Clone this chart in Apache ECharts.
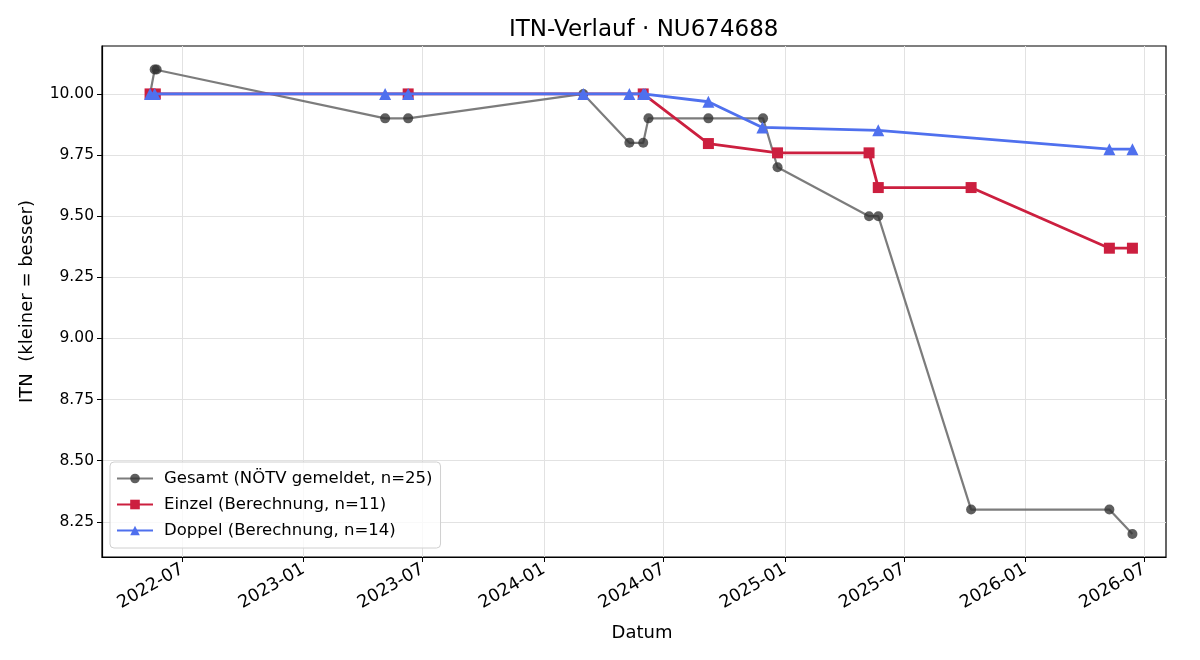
<!DOCTYPE html>
<html>
<head>
<meta charset="utf-8">
<title>ITN-Verlauf</title>
<script src="https://cdn.jsdelivr.net/npm/echarts@6/dist/echarts.min.js"></script>
<style>
  html, body { margin: 0; padding: 0; background: #fff; }
  #chart { width: 1200px; height: 660px; }
</style>
</head>
<body>
<div id="chart"></div>
<script>
// Gesamt (NÖTV gemeldet)
const gesamtDates = ['2022-05-13', '2022-05-20', '2022-05-23', '2023-05-05', '2023-06-09',
  '2024-03-01', '2024-05-10', '2024-05-31', '2024-06-08', '2024-09-07', '2024-11-29',
  '2024-12-21', '2025-05-09', '2025-05-23', '2025-10-11', '2026-05-09', '2026-06-13'];
const gesamtValues = [10.0, 10.1, 10.1, 9.9, 9.9, 10.0, 9.8, 9.8, 9.9, 9.9, 9.9,
  9.7, 9.5, 9.5, 8.3, 8.3, 8.2];

// Einzel (Berechnung)
const einzelDates = ['2022-05-13', '2022-05-21', '2023-06-09', '2024-05-31', '2024-09-07',
  '2024-12-21', '2025-05-09', '2025-05-23', '2025-10-11', '2026-05-09', '2026-06-13'];
const einzelValues = [10.0, 10.0, 10.0, 10.0, 9.797, 9.759, 9.759, 9.617, 9.617, 9.369, 9.369];

// Doppel (Berechnung)
const doppelDates = ['2022-05-13', '2022-05-20', '2023-05-05', '2023-06-09', '2024-03-01',
  '2024-05-10', '2024-05-31', '2024-06-03', '2024-09-07', '2024-11-28', '2025-05-23',
  '2026-05-09', '2026-06-13'];
const doppelValues = [10.0, 10.0, 10.0, 10.0, 10.0, 10.0, 10.0, 10.0, 9.968, 9.863, 9.851,
  9.774, 9.774];

const xTickLabels = ['2022-07', '2023-01', '2023-07', '2024-01', '2024-07',
  '2025-01', '2025-07', '2026-01', '2026-07'];
const yTickValues = [8.25, 8.5, 8.75, 9.0, 9.25, 9.5, 9.75, 10.0];

const xMin = '2022-03-01';
const xMax = '2026-08-03';
const yMin = 8.106;
const yMax = 10.196;

function ts(d) { return new Date(d + 'T00:00:00Z').getTime(); }
function pairs(dates, values) { return dates.map((d, i) => [ts(d), values[i]]); }

const xTickValues = xTickLabels.map(m => ts(m + '-01'));
const font = 'DejaVu Sans';

const chart = echarts.init(document.getElementById('chart'), null, { renderer: 'canvas' });

chart.setOption({
  animation: false,
  backgroundColor: '#fff',
  textStyle: { fontFamily: font },
  title: {
    text: 'ITN-Verlauf · NU674688',
    left: 504,
    top: 14,
    textStyle: { fontFamily: font, fontSize: 23, fontWeight: 'normal', color: '#000' }
  },
  grid: {
    left: 102, right: 34, top: 46, bottom: 103,
    show: true, borderColor: '#000', borderWidth: 1.2
  },
  legend: {
    orient: 'vertical',
    left: 110,
    top: 462,
    itemWidth: 36,
    itemHeight: 12,
    itemGap: 9,
    padding: [8, 8, 9, 6],
    borderColor: '#d0d0d0',
    borderWidth: 1,
    borderRadius: 4,
    backgroundColor: 'rgba(255,255,255,0.8)',
    textStyle: { fontFamily: font, fontSize: 16.5, color: '#000', padding: [0, 0, 0, 6] },
    data: ['Gesamt (NÖTV gemeldet, n=25)', 'Einzel (Berechnung, n=11)', 'Doppel (Berechnung, n=14)']
  },
  xAxis: {
    type: 'value',
    min: ts(xMin),
    max: ts(xMax),
    name: 'Datum',
    nameLocation: 'middle',
    nameGap: 67,
    nameTextStyle: { fontFamily: font, fontSize: 18, color: '#000', padding: [0, 0, 0, 16] },
    axisLine: { onZero: false, lineStyle: { color: '#000', width: 1.2 } },
    axisTick: { show: true, customValues: xTickValues, length: 5, lineStyle: { color: '#000' } },
    axisLabel: {
      customValues: xTickValues,
      rotate: 30,
      margin: 11,
      fontFamily: font,
      fontSize: 17.5,
      color: '#000',
      formatter: v => {
        const d = new Date(v);
        return d.getUTCFullYear() + '-' + String(d.getUTCMonth() + 1).padStart(2, '0');
      }
    },
    splitLine: { show: true, lineStyle: { color: '#e2e2e2', width: 1 } }
  },
  yAxis: {
    type: 'value',
    min: yMin,
    max: yMax,
    name: 'ITN  (kleiner = besser)',
    nameLocation: 'middle',
    nameGap: 66,
    nameTextStyle: { fontFamily: font, fontSize: 18, color: '#000' },
    axisLine: { show: true, lineStyle: { color: '#000', width: 1.2 } },
    axisTick: { show: true, customValues: yTickValues, length: 5, lineStyle: { color: '#000' } },
    axisLabel: {
      customValues: yTickValues,
      margin: 8,
      fontFamily: font,
      fontSize: 15.5,
      color: '#000',
      formatter: v => v.toFixed(2)
    },
    splitLine: { show: true, lineStyle: { color: '#e2e2e2', width: 1 } }
  },
  series: [
    {
      name: 'Gesamt (NÖTV gemeldet, n=25)',
      type: 'line',
      data: pairs(gesamtDates, gesamtValues),
      symbol: 'circle',
      symbolSize: 10,
      showAllSymbol: true,
      lineStyle: { color: 'rgba(110,110,110,0.9)', width: 2.2 },
      itemStyle: { color: 'rgba(50,50,50,0.78)', borderWidth: 0 },
      z: 2
    },
    {
      name: 'Einzel (Berechnung, n=11)',
      type: 'line',
      data: pairs(einzelDates, einzelValues),
      symbol: 'rect',
      symbolSize: 11,
      showAllSymbol: true,
      lineStyle: { color: '#cc1f3f', width: 2.8 },
      itemStyle: { color: '#cc1f3f', borderWidth: 0 },
      z: 3
    },
    {
      name: 'Doppel (Berechnung, n=14)',
      type: 'line',
      data: pairs(doppelDates, doppelValues),
      symbol: 'triangle',
      symbolSize: 12,
      showAllSymbol: true,
      lineStyle: { color: '#4f70ee', width: 2.8 },
      itemStyle: { color: '#4f70ee', borderWidth: 0 },
      z: 4
    }
  ]
});
</script>
</body>
</html>
